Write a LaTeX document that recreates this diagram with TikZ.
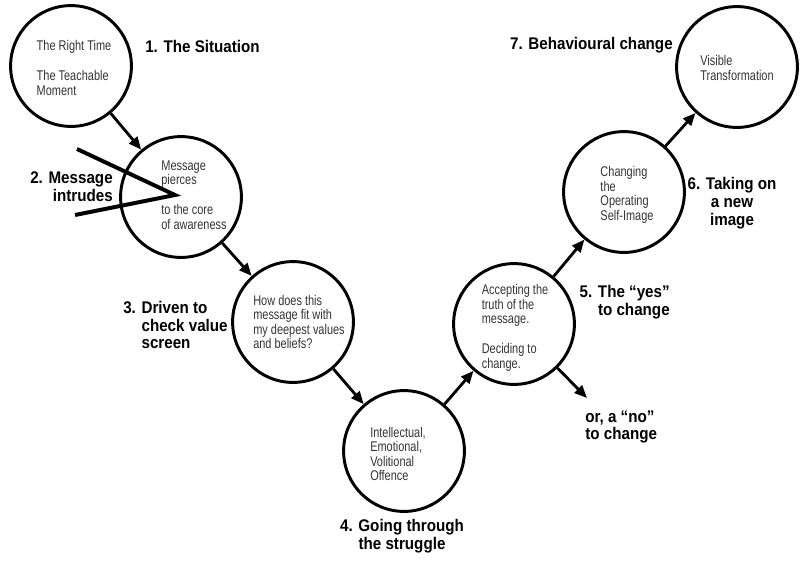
\documentclass[tikz,border=0pt]{standalone}
\usepackage{fontspec}
\setmainfont{Liberation Sans}
\newfontfamily\tagfont[FakeStretch=0.9]{Liberation Sans}
\newfontfamily\insidefont[FakeStretch=0.78]{Liberation Sans}
\usetikzlibrary{arrows.meta}

\begin{document}
\begin{tikzpicture}[x=0.025cm,y=-0.025cm,
    stage/.style={draw,circle,line width=2.1pt,minimum size=3.02cm,inner sep=0pt},
    inside/.style={font=\insidefont\fontsize{10}{10.3}\selectfont,text=black!80,align=left,inner sep=0pt},
    tag/.style={font=\tagfont\bfseries\fontsize{12}{12.6}\selectfont,inner sep=0pt},
    flow/.style={line width=2pt,-{Triangle[length=9pt,width=7.5pt]}}]
  \useasboundingbox (0,0) rectangle (800,560);
  %% Circles
  \node[stage] (c1) at (71,66) {};
  \node[stage] (c2) at (181,197) {};
  \node[stage] (c3) at (293,322) {};
  \node[stage] (c4) at (404,451) {};
  \node[stage] (c5) at (514,324) {};
  \node[stage] (c6) at (624,192) {};
  \node[stage] (c7) at (737,67) {};
  %% Text in the circles
  \node[inside] (t1) at (74,68) {The Right Time\\[11pt]The Teachable\\Moment};
  \node[inside] (t2) at (194,195) {Message\\pierces\\[11pt]to the core\\of awareness};
  \node[inside] (t3) at (299,322) {How does this\\message fit with\\my deepest values\\and beliefs?};
  \node[inside] (t4) at (398,454) {Intellectual,\\Emotional,\\Volitional\\Offence};
  \node[inside] (t5) at (515,328) {Accepting the\\truth of the\\message.\\[11pt]Deciding to\\change.};
  \node[inside] (t6) at (627,195) {Changing\\the\\Operating\\Self-Image};
  \node[inside] (t7) at (737,68) {Visible\\Transformation};
  %% Step labels
  \node[tag,anchor=west] (l1) at (145,46) {1. The Situation};
  \node[tag,anchor=east,align=right] (l2) at (113,187) {2. Message\\intrudes};
  \node[tag,anchor=west,align=left] (l3) at (123,325) {3. Driven to\\\hspace*{13pt}check value\\\hspace*{13pt}screen};
  \node[tag,align=center] (l4) at (402,536) {4. Going through\\the struggle};
  \node[tag,anchor=east,align=right] (l5) at (670,302) {5. The “yes”\\to change};
  \node[tag,anchor=west,align=left] (lno) at (585,427) {or, a “no”\\to change};
  \node[tag,align=center] (l6) at (732,203) {6. Taking on\\a new\\image};
  \node[tag,anchor=east] (l7) at (673,45) {7. Behavioural change};
  %% Arrows between the circles
  \draw[flow] (c1) -- (c2);
  \draw[flow] (c2) -- (c3);
  \draw[flow] (c3) -- (c4);
  \draw[flow] (c4) -- (c5);
  \draw[flow] (c5) -- (c6);
  \draw[flow] (c6) -- (c7);
  \coordinate (no) at (587,398);
  \draw[flow] (c5) -- (no);
  %% message wedge
  \coordinate (w1) at (77,149);
  \coordinate (tip) at (175,195);
  \coordinate (w2) at (75,215);
  \draw[line width=2.8pt] (w1) -- (tip) -- (w2);
\end{tikzpicture}
\end{document}
